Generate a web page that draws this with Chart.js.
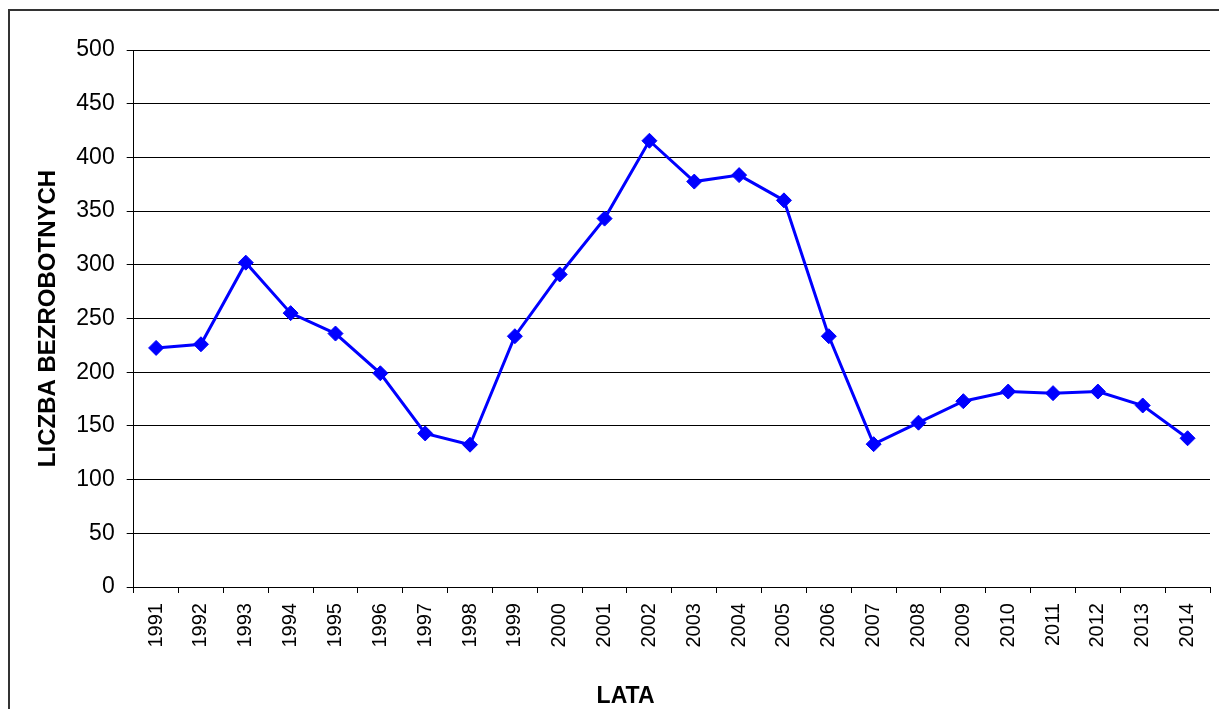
<!DOCTYPE html>
<html lang="pl">
<head>
<meta charset="utf-8">
<title>Liczba bezrobotnych</title>
<script src="https://cdn.jsdelivr.net/npm/chart.js@4.4.1/dist/chart.umd.min.js"></script>
<style>
    html, body { margin: 0; padding: 0; background: #ffffff; }
    canvas { display: block; }
</style>
</head>
<body>
<canvas id="unempChart" width="1219" height="709"></canvas>
<script>
// Data
const years = ['1991', '1992', '1993', '1994', '1995', '1996', '1997', '1998', '1999', '2000',
    '2001', '2002', '2003', '2004', '2005', '2006', '2007', '2008', '2009', '2010',
    '2011', '2012', '2013', '2014'];
const unemployed = [222.6, 226, 302, 255, 236, 199, 143, 132.5, 233.5, 291,
    343, 415.5, 377.5, 383.5, 360, 233.5, 133, 153, 173, 182,
    180.5, 182, 169, 138.5];
const yTicks = [0, 50, 100, 150, 200, 250, 300, 350, 400, 450, 500];

const FONT = 'Arial, "Liberation Sans", sans-serif';

// Outer frame (only left and top edges are visible in the picture)
const framePlugin = {
    id: 'frame',
    beforeDraw(chart) {
        const ctx = chart.ctx;
        ctx.save();
        ctx.fillStyle = '#ffffff';
        ctx.fillRect(0, 0, chart.width, chart.height);
        ctx.strokeStyle = '#333333';
        ctx.lineWidth = 2;
        ctx.beginPath();
        ctx.moveTo(9, chart.height);
        ctx.lineTo(9, 10);
        ctx.lineTo(chart.width, 10);
        ctx.stroke();
        ctx.restore();
    }
};

// x axis title sits a little left of the plot centre
const xTitlePlugin = {
    id: 'xTitle',
    afterDraw(chart) {
        const ctx = chart.ctx;
        const area = chart.chartArea;
        ctx.save();
        ctx.font = 'bold 23px ' + FONT;
        ctx.fillStyle = '#000000';
        ctx.textAlign = 'center';
        ctx.textBaseline = 'alphabetic';
        ctx.fillText('LATA', area.left + (area.right - area.left) * 0.457, 703);
        ctx.restore();
    }
};

const ctx = document.getElementById('unempChart').getContext('2d');
const unempChart = new Chart(ctx, {
    type: 'line',
    data: {
        labels: years,
        datasets: [{
            data: unemployed,
            borderColor: '#0000FF',
            backgroundColor: '#0000FF',
            borderWidth: 3,
            pointStyle: 'rectRot',
            pointRadius: 7.5,
            pointHoverRadius: 7.5,
            pointBorderWidth: 1,
            pointBorderColor: '#0000FF',
            pointBackgroundColor: '#0000FF',
            tension: 0,
            fill: false
        }]
    },
    options: {
        responsive: false,
        animation: false,
        layout: { padding: { top: 50, right: 9, bottom: 51.5, left: 28 } },
        plugins: {
            legend: { display: false },
            tooltip: { enabled: false }
        },
        scales: {
            x: {
                offset: true,
                // rotated labels fit inside the category offset, no extra room needed
                afterFit: (axis) => {
                    axis.paddingLeft = 0;
                    axis.paddingRight = 0;
                },
                grid: {
                    display: true,
                    offset: true,
                    drawOnChartArea: false,
                    drawTicks: true,
                    tickLength: 6,
                    color: '#000000',
                    lineWidth: 1
                },
                border: { display: true, color: '#000000', width: 1 },
                ticks: {
                    minRotation: 90,
                    maxRotation: 90,
                    autoSkip: false,
                    padding: 10,
                    color: '#000000',
                    font: { family: FONT, size: 20 }
                }
            },
            y: {
                min: 0,
                max: 500,
                afterBuildTicks: (axis) => {
                    axis.ticks = yTicks.map(v => ({ value: v }));
                },
                grid: {
                    color: '#000000',
                    lineWidth: 1,
                    drawTicks: true,
                    tickLength: 7
                },
                border: { display: true, color: '#000000', width: 1 },
                ticks: {
                    padding: 12,
                    color: '#000000',
                    font: { family: FONT, size: 23 }
                },
                title: {
                    display: true,
                    text: 'LICZBA BEZROBOTNYCH',
                    color: '#000000',
                    padding: { top: 5.5, bottom: 2 },
                    font: { family: FONT, size: 24, weight: 'bold' }
                }
            }
        }
    },
    plugins: [framePlugin, xTitlePlugin]
});
</script>
</body>
</html>
